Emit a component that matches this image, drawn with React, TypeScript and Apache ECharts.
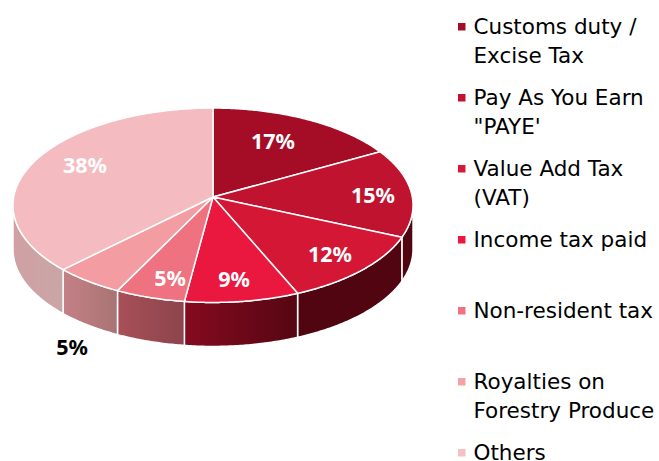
import React, { useEffect, useRef } from "react";
import * as echarts from "echarts";

const categories = [
  ["Customs duty /", "Excise Tax"],
  ["Pay As You Earn", "\"PAYE'"],
  ["Value Add Tax", "(VAT)"],
  ["Income tax paid"],
  ["Non-resident tax"],
  ["Royalties on", "Forestry Produce"],
  ["Others"],
];
const values = [16.9, 14.7, 12, 8.5, 5.2, 5.2, 37.5];
const valueLabels = ["17%", "15%", "12%", "9%", "5%", "5%", "38%"];

const topColors = ["#A50D26", "#BF132F", "#D41735", "#EA173F", "#EE7280", "#F39CA2", "#F4BCC0"];
const legendColors = ["#A50D2A", "#C2122F", "#D81838", "#EB173F", "#EE7280", "#F4A0A6", "#F6C0C4"];
const wallColors: [string, string][] = [
  ["#500510", "#500510"],
  ["#500510", "#500510"],
  ["#500510", "#500510"],
  ["#850A20", "#560612"],
  ["#A85058", "#8C444C"],
  ["#C48086", "#A87474"],
  ["#D0A0A4", "#CAA6A6"],
];
const labelSpots: [number, number, string][] = [
  [273, 140, "#fff"],
  [373, 194, "#fff"],
  [330, 253, "#fff"],
  [234, 278, "#fff"],
  [170, 277, "#fff"],
  [72, 346, "#000"],
  [85, 164, "#fff"],
];

const LABEL_FONT = "'Noto Sans', sans-serif";
const LEGEND_FONT = "'DejaVu Sans', sans-serif";
const CX = 213, CY = 197, A = 199.3, B = 96.5, K = 0.0848, DEPTH = 44;

function rim(theta: number): [number, number] {
  const u = Math.sin(theta), v = Math.cos(theta), w = 1 + K * v;
  return [CX + (A * u) / w, CY - (B * v) / w];
}
function arcPts(a: number, b: number): [number, number][] {
  const n = Math.max(2, Math.ceil(Math.abs(b - a) / 0.01));
  const pts: [number, number][] = [];
  for (let i = 0; i <= n; i++) pts.push(rim(a + ((b - a) * i) / n));
  return pts;
}

const total = values.reduce((s, v) => s + v, 0);
const RIGHT = Math.PI - Math.acos(K);
const LEFT = Math.PI + Math.acos(K);

function renderItem(params: any, api: any) {
  const i = params.dataIndex;
  const before = values.slice(0, i).reduce((s, v) => s + v, 0);
  const t0 = (before / total) * Math.PI * 2;
  const t1 = t0 + (api.value(0) / total) * Math.PI * 2;
  const children: any[] = [];
  const wa = Math.max(t0, RIGHT), wb = Math.min(t1, LEFT);
  if (wb > wa) {
    const r = arcPts(wa, wb);
    const down = r.map(([x, y]) => [x, y + DEPTH]).reverse();
    children.push({
      type: "polygon",
      shape: { points: [...r, ...down] },
      z2: 1,
      style: {
        fill: new echarts.graphic.LinearGradient(0, 0, 1, 0, [
          { offset: 0, color: wallColors[i][0] },
          { offset: 1, color: wallColors[i][1] },
        ]),
        stroke: "#fff",
        lineWidth: 1.5,
      },
    });
  }
  children.push({
    type: "polygon",
    shape: { points: [[CX, CY], ...arcPts(t0, t1)] },
    z2: 2,
    style: { fill: topColors[i], stroke: "#fff", lineWidth: 1.5, lineJoin: "round" },
  });
  children.push({
    type: "text",
    z2: 10,
    x: labelSpots[i][0],
    y: labelSpots[i][1],
    style: {
      text: valueLabels[i],
      fill: labelSpots[i][2],
      font: `bold 21.5px ${LABEL_FONT}`,
      align: "center",
      verticalAlign: "middle",
    },
  });
  return { type: "group", children };
}

const legendStart = 26.5, legendStep = 71, lineH = 29;

const legendGraphics = categories.flatMap((lines, i) => {
  const cy = legendStart + i * legendStep;
  return [
    { type: "rect", shape: { x: 458, y: cy - 3.5, width: 7.5, height: 7.5 }, style: { fill: legendColors[i] } },
    ...lines.map((line, j) => ({
      type: "text",
      x: 473.5,
      y: cy + j * lineH,
      style: { text: line, font: `21.5px ${LEGEND_FONT}`, fill: "#000", lineHeight: 15, verticalAlign: "middle", align: "left" },
    })),
  ];
});

export default function App() {
  const ref = useRef<HTMLDivElement>(null);
  useEffect(() => {
    const chart = echarts.init(ref.current!, undefined, { renderer: "svg" });
    chart.setOption({
      animation: false,
      backgroundColor: "#fff",
      graphic: legendGraphics,
      series: [
        {
          type: "custom",
          coordinateSystem: "none",
          renderItem,
          data: values.map((v, i) => ({ name: categories[i].join(" "), value: [v] })),
          encode: { value: 0 },
          silent: true,
          clip: false,
        },
      ],
    });
    return () => chart.dispose();
  }, []);
  return <div ref={ref} style={{ position: "fixed", left: 0, top: 0, width: 659, height: 461 }} />;
}
